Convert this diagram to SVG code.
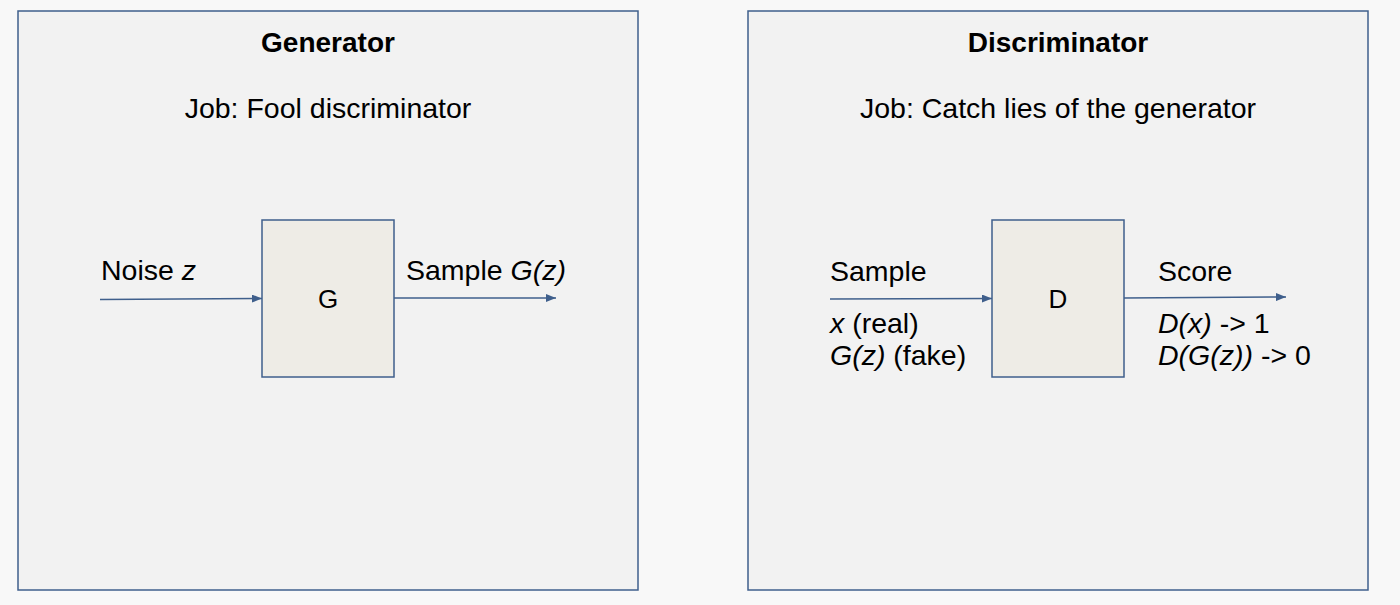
<svg xmlns="http://www.w3.org/2000/svg" width="1400" height="605" viewBox="0 0 1400 605">
  <defs>
    <style>
      text { font-family: "Liberation Sans", Arial, sans-serif; fill: #000; }
      .title { font-size: 28px; font-weight: bold; text-anchor: middle; }
      .job { font-size: 28.5px; text-anchor: middle; }
      .lbl { font-size: 28.5px; }
      .node { font-size: 26px; text-anchor: middle; }
      .frame { fill: #f2f2f2; stroke: #3f5f8c; stroke-width: 1.5; }
      .box { fill: #eeece6; stroke: #3f5f8c; stroke-width: 1.5; }
      .conn { stroke: #3f5f8c; stroke-width: 1.5; fill: none; marker-end: url(#arr); }
    </style>
    <marker id="arr" viewBox="0 0 10 8" refX="10" refY="4" markerWidth="10" markerHeight="8" markerUnits="userSpaceOnUse" orient="auto">
      <path d="M0,0 L10,4 L0,8 Z" fill="#3f5f8c"/>
    </marker>
  </defs>
  <rect x="0" y="0" width="1400" height="605" fill="#f8f8f8"/>

  <g id="generator-panel">
    <rect class="frame" x="18" y="11" width="620" height="579"/>
    <text class="title" x="328" y="52">Generator</text>
    <text class="job" x="328" y="118">Job: Fool discriminator</text>
  </g>

  <g id="discriminator-panel">
    <rect class="frame" x="748" y="11" width="620" height="579"/>
    <text class="title" x="1058" y="52">Discriminator</text>
    <text class="job" x="1058" y="118">Job: Catch lies of the generator</text>
  </g>

  <g id="connectors">
    <line class="conn" x1="100" y1="299.5" x2="262" y2="298.5"/>
    <line class="conn" x1="394" y1="298" x2="556" y2="298"/>
    <line class="conn" x1="830" y1="299" x2="992" y2="298.5"/>
    <line class="conn" x1="1124" y1="298" x2="1286" y2="297"/>
  </g>

  <g id="node-G">
    <rect class="box" x="262" y="220" width="132" height="157"/>
    <text class="node" x="328" y="308">G</text>
  </g>

  <g id="node-D">
    <rect class="box" x="992" y="220" width="132" height="157"/>
    <text class="node" x="1058" y="308">D</text>
  </g>

  <g id="labels">
    <text class="lbl" x="101" y="280">Noise <tspan font-style="italic">z</tspan></text>
    <text class="lbl" x="406" y="280">Sample <tspan font-style="italic">G(z)</tspan></text>
    <text class="lbl" x="830" y="281">Sample</text>
    <text class="lbl" x="830" y="333"><tspan font-style="italic">x</tspan> (real)</text>
    <text class="lbl" x="830" y="365"><tspan font-style="italic">G(z)</tspan> (fake)</text>
    <text class="lbl" x="1158" y="281">Score</text>
    <text class="lbl" x="1158" y="333"><tspan font-style="italic">D(x)</tspan> -&gt; 1</text>
    <text class="lbl" x="1158" y="365"><tspan font-style="italic">D(G(z))</tspan> -&gt; 0</text>
  </g>
</svg>
